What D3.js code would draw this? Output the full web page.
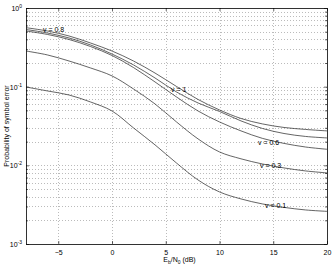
<!DOCTYPE html>
<html>
<head>
<meta charset="utf-8">
<script src="https://d3js.org/d3.v7.min.js"></script>
<style>
  body { margin: 0; background: #fff; }
  text { font-family: "Liberation Sans", Arial, sans-serif; fill: #000; }
</style>
</head>
<body>
<script>
// Eb/N0 samples (dB)
var ebn0 = [-8, -6, -4, -2, 0, 2, 4, 6, 8, 10, 12, 14, 16, 18, 20];

// symbol error probability for each v
var pV1  = [0.562, 0.510, 0.441, 0.359, 0.284, 0.212, 0.149, 0.1006, 0.0688, 0.0506, 0.0394, 0.0336, 0.0303, 0.0286, 0.0274];
var pV08 = [0.533, 0.481, 0.416, 0.339, 0.260, 0.189, 0.129, 0.0856, 0.0621, 0.0484, 0.0367, 0.0294, 0.0254, 0.0233, 0.0223];
var pV06 = [0.510, 0.461, 0.398, 0.324, 0.249, 0.175, 0.1148, 0.0740, 0.0491, 0.0356, 0.0274, 0.0220, 0.0190, 0.0171, 0.0160];
var pV03 = [0.284, 0.253, 0.212, 0.173, 0.137, 0.0935, 0.0603, 0.0356, 0.0217, 0.0148, 0.0121, 0.0104, 0.00927, 0.00849, 0.00801];
var pV01 = [0.0991, 0.0882, 0.0784, 0.0639, 0.0491, 0.0299, 0.0182, 0.0107, 0.00652, 0.00459, 0.00374, 0.00323, 0.00292, 0.00271, 0.00260];

var series = [pV1, pV08, pV06, pV03, pV01];

// curve labels and where they sit
var labelText = ["v = 0.8", "v = 1", "v = 0.6", "v = 0.3", "v = 0.1"];
var labelX = [-6.42, 5.49, 13.58, 13.77, 14.23];
var labelY = [0.533, 0.0921, 0.0193, 0.00983, 0.00305];

var xTicks = [-5, 0, 5, 10, 15, 20];
var yTicks = [1e-3, 1e-2, 1e-1, 1];

var svgWidth = 332;
var svgHeight = 267;
var margin = { top: 8, right: 5, bottom: 23, left: 26 };
var width = svgWidth - margin.left - margin.right;
var height = svgHeight - margin.top - margin.bottom;

var svg = d3.select("body")
  .append("svg")
    .attr("width", svgWidth)
    .attr("height", svgHeight)
  .append("g")
    .attr("transform", "translate(" + margin.left + "," + margin.top + ")");

var x = d3.scaleLinear()
  .domain([-8, 20])
  .range([0, width]);

var y = d3.scaleLog()
  .domain([1e-3, 1])
  .range([height, 0]);

// minor log values 2..9 per decade
var yMinor = [];
[1e-3, 1e-2, 1e-1].forEach(function(d) {
  for (var k = 2; k <= 9; k++) yMinor.push(d * k);
});

// grid
svg.append("g")
  .selectAll("line")
  .data(xTicks.filter(function(d) { return d < 20; }))
  .enter()
  .append("line")
    .attr("x1", function(d) { return Math.round(x(d)) + 0.5; })
    .attr("x2", function(d) { return Math.round(x(d)) + 0.5; })
    .attr("y1", 0)
    .attr("y2", height)
    .attr("stroke", "#aaa")
    .attr("stroke-width", 0.8)
    .attr("stroke-dasharray", "1,2");

svg.append("g")
  .selectAll("line")
  .data(yMinor.concat([1e-2, 1e-1]))
  .enter()
  .append("line")
    .attr("x1", 0)
    .attr("x2", width)
    .attr("y1", function(d) { return Math.round(y(d)) + 0.5; })
    .attr("y2", function(d) { return Math.round(y(d)) + 0.5; })
    .attr("stroke", "#aaa")
    .attr("stroke-width", 0.8)
    .attr("stroke-dasharray", "1,2");

// axes, ticks inward
svg.append("g")
  .attr("transform", "translate(0," + height + ")")
  .call(d3.axisBottom(x).tickValues(xTicks).tickSizeInner(-3).tickSizeOuter(0).tickPadding(6))
  .call(function(g) {
    g.select(".domain").remove();
    g.selectAll("text").style("font-size", "7px");
  });

svg.append("g")
  .call(d3.axisTop(x).tickValues(xTicks).tickSizeInner(-3).tickSizeOuter(0).tickFormat(""))
  .call(function(g) { g.select(".domain").remove(); });

svg.append("g")
  .call(d3.axisLeft(y).tickValues(yTicks).tickSizeInner(-3).tickSizeOuter(0).tickFormat(""))
  .call(function(g) { g.select(".domain").remove(); });

svg.append("g")
  .call(d3.axisLeft(y).tickValues(yMinor).tickSizeInner(-2).tickSizeOuter(0).tickFormat(""))
  .call(function(g) { g.select(".domain").remove(); });

svg.append("g")
  .attr("transform", "translate(" + width + ",0)")
  .call(d3.axisRight(y).tickValues(yTicks).tickSizeInner(-3).tickSizeOuter(0).tickFormat(""))
  .call(function(g) { g.select(".domain").remove(); });

svg.append("g")
  .attr("transform", "translate(" + width + ",0)")
  .call(d3.axisRight(y).tickValues(yMinor).tickSizeInner(-2).tickSizeOuter(0).tickFormat(""))
  .call(function(g) { g.select(".domain").remove(); });

svg.selectAll(".tick line").attr("stroke", "#000").attr("stroke-width", 0.6);

// y tick labels 10^k
var yLab = svg.append("g")
  .selectAll("text")
  .data(yTicks)
  .enter()
  .append("text")
    .attr("x", -4)
    .attr("y", function(d) { return y(d) + 3; })
    .attr("text-anchor", "end")
    .style("font-size", "7px");
yLab.append("tspan").text("10");
yLab.append("tspan")
  .attr("dy", -3)
  .style("font-size", "5px")
  .text(function(d) { return Math.round(Math.log10(d)); });

// box
svg.append("rect")
  .attr("x", 0.5)
  .attr("y", 0.5)
  .attr("width", Math.round(width))
  .attr("height", Math.round(height))
  .attr("fill", "none")
  .attr("stroke", "#000")
  .attr("stroke-width", 0.8);

// curves, smooth through the read points
var line = d3.line()
  .x(function(d, i) { return x(ebn0[i]); })
  .y(function(d) { return y(d); })
  .curve(d3.curveCatmullRom.alpha(0.5));

svg.append("g")
  .selectAll("path")
  .data(series)
  .enter()
  .append("path")
    .attr("d", line)
    .attr("fill", "none")
    .attr("stroke", "#222")
    .attr("stroke-width", 0.7);

svg.append("g")
  .selectAll("text")
  .data(labelText)
  .enter()
  .append("text")
    .attr("x", function(d, i) { return x(labelX[i]); })
    .attr("y", function(d, i) { return y(labelY[i]) + 2.5; })
    .style("font-size", "7px")
    .text(function(d) { return d; });

// axis titles
var xt = svg.append("text")
  .attr("x", width / 2 + 3)
  .attr("y", height + 18)
  .attr("text-anchor", "middle")
  .style("font-size", "7px");
xt.append("tspan").text("E");
xt.append("tspan").attr("dy", 2).style("font-size", "5px").text("b");
xt.append("tspan").attr("dy", -2).text("/N");
xt.append("tspan").attr("dy", 2).style("font-size", "5px").text("0");
xt.append("tspan").attr("dy", -2).text(" (dB)");

svg.append("text")
  .attr("transform", "translate(" + (-17) + "," + (height / 2) + ") rotate(-90)")
  .attr("text-anchor", "middle")
  .style("font-size", "7px")
  .text("Probability of symbol error");
</script>
</body>
</html>
